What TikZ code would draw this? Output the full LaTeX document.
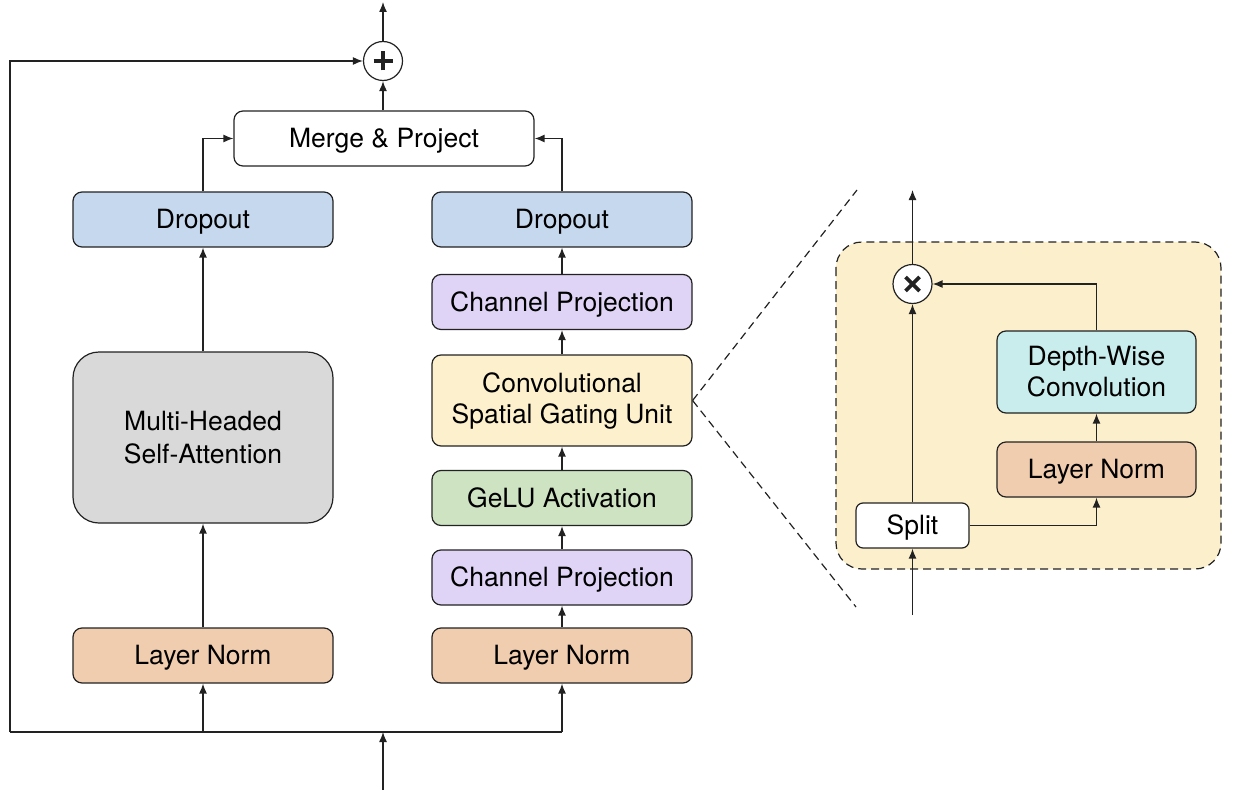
\documentclass[tikz,border=0pt]{standalone}
\usepackage{fontspec}
\setmainfont{TeX Gyre Heros}
\usetikzlibrary{arrows.meta,calc}

\definecolor{dropc}{HTML}{C6D8EE}
\definecolor{projc}{HTML}{DFD4F5}
\definecolor{gatec}{HTML}{FDF0CC}
\definecolor{geluc}{HTML}{CEE3C1}
\definecolor{normc}{HTML}{F1CDAF}
\definecolor{attnc}{HTML}{D9D9D9}
\definecolor{dwc}{HTML}{C8EDEC}
\definecolor{panelc}{HTML}{FCEFCB}
\definecolor{edgec}{HTML}{222222}

\begin{document}
\begin{tikzpicture}[x=1pt,y=-1pt,
  box/.style={draw=edgec, line width=1.2pt, rounded corners=9pt,
    minimum height=55pt, inner sep=0pt, align=center,
    font=\fontsize{26.5}{31}\selectfont, text=black},
  oneline/.style={text height=18.8pt, text depth=0pt},
  colbox/.style={box, minimum width=260pt},
  conn/.style={draw=edgec, line width=1.3pt, -{Latex[length=10pt,width=8pt]}},
  wire/.style={draw=edgec, line width=1.3pt},
  zoomline/.style={draw=edgec, line width=1.2pt, dash pattern=on 8pt off 5pt},
  opnode/.style={circle, draw=edgec, line width=1.2pt, fill=white,
    minimum size=39pt, inner sep=0pt},
  plussign/.style={opnode, path picture={
    \draw[line width=3.8pt] ([xshift=-9.5pt]path picture bounding box.center) -- ([xshift=9.5pt]path picture bounding box.center);
    \draw[line width=3.8pt] ([yshift=-9.5pt]path picture bounding box.center) -- ([yshift=9.5pt]path picture bounding box.center);}},
  timessign/.style={opnode, path picture={
    \draw[line width=3.8pt] ([shift={(-7pt,-7pt)}]path picture bounding box.center) -- ([shift={(7pt,7pt)}]path picture bounding box.center);
    \draw[line width=3.8pt] ([shift={(-7pt,7pt)}]path picture bounding box.center) -- ([shift={(7pt,-7pt)}]path picture bounding box.center);}}
]
\useasboundingbox (0,0) rectangle (1234,792);

% ---------------- main block ----------------
\node[plussign] (plus) at (383,61) {};
\node[box, oneline, minimum width=300pt, fill=white] (merge) at (384,138.5) {Merge \& Project};

\node[colbox, oneline, fill=dropc] (dropL) at (203,219.5) {Dropout};
\node[colbox, fill=attnc, minimum height=171pt, rounded corners=26pt,
      font=\fontsize{26.5}{33}\selectfont] (mhsa) at (203,437.5) {Multi-Headed\\Self-Attention};
\node[colbox, oneline, fill=normc] (lnL) at (203,655.5) {Layer Norm};

\node[colbox, oneline, fill=dropc] (dropR) at (562,219.5) {Dropout};
\node[colbox, oneline, fill=projc] (cpT) at (562,302) {Channel Projection};
\node[colbox, fill=gatec, minimum height=91pt] (csgu) at (562,400.5) {Convolutional\\Spatial Gating Unit};
\node[colbox, oneline, fill=geluc] (gelu) at (562,498) {GeLU Activation};
\node[colbox, oneline, fill=projc] (cpB) at (562,577.5) {Channel Projection};
\node[colbox, oneline, fill=normc] (lnR) at (562,655.5) {Layer Norm};

\coordinate (out) at (383,2);
\coordinate (in) at (383,790);
\coordinate (bl) at (10,732);
\coordinate (br) at (562,732);
\coordinate (tl) at (10,61);

\draw[conn] (plus.north) -- (out);
\draw[conn] (merge.north -| plus) -- (plus.south);
\draw[wire] (bl) -- (br);
\draw[conn] (bl) -- (tl) -- (plus.west);
\draw[conn] (in) -- (in |- bl);
\draw[conn] (lnL.south |- bl) -- (lnL.south);
\draw[conn] (br) -- (lnR.south);

\draw[conn] (lnL) -- (mhsa);
\draw[conn] (mhsa) -- (dropL);
\draw[conn] (dropL.north) |- (merge.west);

\draw[conn] (lnR) -- (cpB);
\draw[conn] (cpB) -- (gelu);
\draw[conn] (gelu) -- (csgu);
\draw[conn] (csgu) -- (cpT);
\draw[conn] (cpT) -- (dropR);
\draw[conn] (dropR.north) |- (merge.east);

% ---------------- gating unit detail ----------------
\coordinate (zt) at (857,190);
\coordinate (zb) at (856,607);
\draw[zoomline] (csgu.east) -- (zt);
\draw[zoomline] (csgu.east) -- (zb);

\draw[zoomline, fill=panelc, rounded corners=26pt] (836,242) rectangle (1221,569);

\node[timessign] (mult) at (912.5,284) {};
\node[box, oneline, fill=white, minimum width=113pt, minimum height=45pt, rounded corners=7pt] (split) at (912.5,525.5) {Split};
\node[box, oneline, fill=normc, minimum width=199pt] (lnI) at (1096.5,469.5) {Layer Norm};
\node[box, fill=dwc, minimum width=199pt, minimum height=82pt] (dwconv) at (1096.5,372) {Depth-Wise\\Convolution};

\coordinate (zin) at (912.5,615);
\coordinate (zout) at (912.5,190);

\draw[conn] (zin) -- (split.south);
\draw[conn] (split.north) -- (mult.south);
\draw[conn] (split.east) -| (lnI.south);
\draw[conn] (lnI) -- (dwconv);
\draw[conn] (dwconv.north) |- (mult.east);
\draw[conn] (mult.north) -- (zout);
\end{tikzpicture}
\end{document}
